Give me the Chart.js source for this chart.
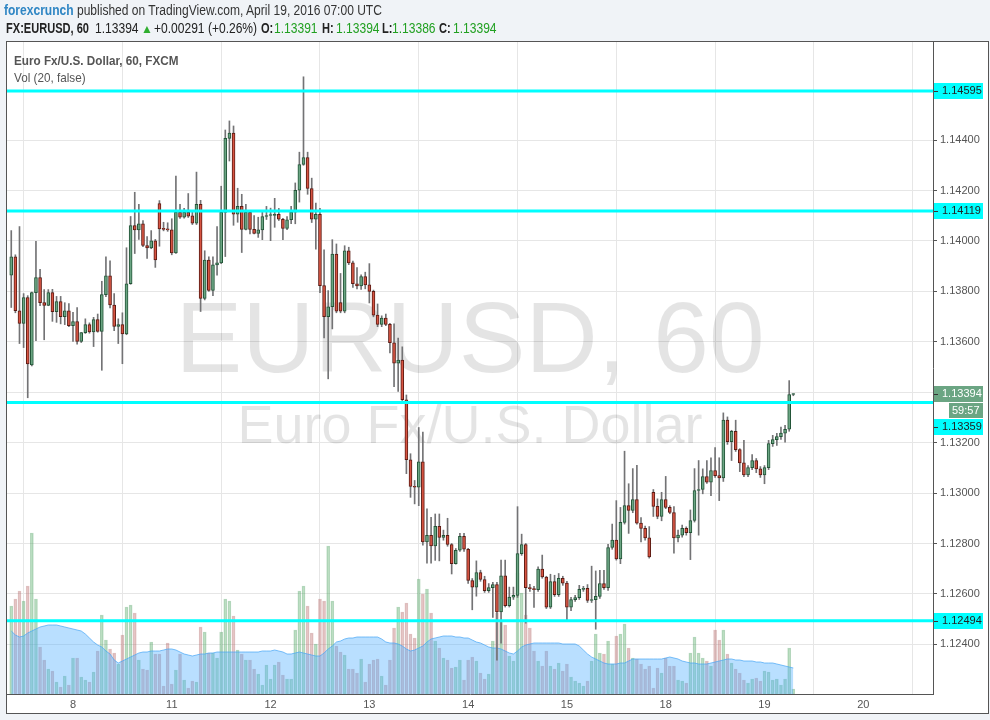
<!DOCTYPE html>
<html><head><meta charset="utf-8">
<script src="https://cdn.jsdelivr.net/npm/chart.js@4.4.1/dist/chart.umd.min.js"></script>
<style>
html,body{margin:0;padding:0;background:#f0f3f7;}
body{width:990px;height:720px;position:relative;overflow:hidden;font-family:"Liberation Sans",Arial,sans-serif;}
#frame{position:absolute;left:6px;top:41px;width:981px;height:671px;border:1px solid #555;background:#fff;}
#c{position:absolute;left:0;top:0;}
.t{position:absolute;white-space:nowrap;transform-origin:0 0;}
#h1{left:4px;top:2px;font-size:14px;color:#333;transform:scaleX(0.86);}
#h1 b{color:#2f86c4;font-weight:bold;}
.h2{top:20px;font-size:14px;color:#222;transform:scaleX(0.86);}
.h2.b{font-weight:bold;transform:scaleX(0.79);}
.h2.g{color:#21a021;}
.h2.tri{color:#2fae2f;font-size:12px;top:22px;transform:none;}
#t1{left:14px;top:53px;font-size:13px;color:#555;font-weight:bold;transform:scaleX(0.9);}
#t2{left:14px;top:70px;font-size:13px;color:#555;transform:scaleX(0.9);}
</style></head>
<body>
<div id="frame"></div>
<canvas id="c" width="990" height="720"></canvas>
<div class="t" id="h1"><b>forexcrunch</b> published on TradingView.com, April 19, 2016 07:00 UTC</div>
<div class="t h2 b" style="left:6px">FX:EURUSD, 60</div>
<div class="t h2" style="left:95px">1.13394</div>
<div class="t h2 tri" style="left:141px">&#9650;</div>
<div class="t h2" style="left:154px">+0.00291 (+0.26%)</div>
<div class="t h2 b" style="left:261px">O:</div>
<div class="t h2 g" style="left:274px">1.13391</div>
<div class="t h2 b" style="left:322px">H:</div>
<div class="t h2 g" style="left:336px">1.13394</div>
<div class="t h2 b" style="left:382px">L:</div>
<div class="t h2 g" style="left:392px">1.13386</div>
<div class="t h2 b" style="left:439px">C:</div>
<div class="t h2 g" style="left:453px">1.13394</div>
<div class="t" id="t1">Euro Fx/U.S. Dollar, 60, FXCM</div>
<div class="t" id="t2">Vol (20, false)</div>
<script>
// ---- data (hourly candles, first candle = Apr 7 09:00 UTC, hour index 9) ----
const startHour = 9;
const dayTicks = [24, 48, 72, 96, 120, 144, 168, 192, 216];
const dayLabels = ['8', '11', '12', '13', '14', '15', '18', '19', '20'];
const priceTicks = [1.124, 1.126, 1.128, 1.130, 1.132, 1.134, 1.136, 1.138, 1.140, 1.142, 1.144];
const levels = [1.14595, 1.14119, 1.13359, 1.12494];
const lastPrice = 1.13394;
const countdown = '59:57';

const open = [
1.13864,1.13937,1.13723,1.13673,1.13775,1.13508,1.13795,1.13855,1.13755,1.13744,
1.13795,1.13719,1.13759,1.13700,1.13723,1.13664,1.13680,1.13601,1.13636,1.13668,
1.13639,1.13688,1.13641,1.13787,1.13862,1.13746,1.13661,1.13668,1.13631,1.13830,
1.14061,1.14044,1.14068,1.13982,1.13972,1.14000,1.14148,1.14048,1.14046,1.14044,
1.13952,1.14113,1.14094,1.14113,1.14100,1.14070,1.14145,1.13772,1.13924,1.13804,
1.13905,1.13913,1.14113,1.14407,1.14428,1.14106,1.14137,1.14046,1.14113,1.14046,
1.14030,1.14044,1.14097,1.14101,1.14101,1.14105,1.14086,1.14050,1.14084,1.14114,
1.14201,1.14303,1.14331,1.14208,1.14086,1.14105,1.13823,1.13700,1.13739,1.13948,
1.13755,1.13721,1.13961,1.13913,1.13830,1.13822,1.13859,1.13826,1.13800,1.13706,
1.13669,1.13694,1.13669,1.13596,1.13515,1.13527,1.13370,1.13132,1.13026,1.13023,
1.13124,1.12806,1.12832,1.12790,1.12868,1.12824,1.12832,1.12796,1.12720,1.12773,
1.12828,1.12777,1.12653,1.12627,1.12685,1.12657,1.12613,1.12625,1.12637,1.12529,
1.12672,1.12553,1.12587,1.12594,1.12760,1.12796,1.12625,1.12621,1.12617,1.12698,
1.12667,1.12547,1.12649,1.12597,1.12662,1.12643,1.12547,1.12577,1.12585,1.12618,
1.12622,1.12574,1.12577,1.12590,1.12641,1.12625,1.12784,1.12813,1.12739,1.12884,
1.12950,1.12931,1.12974,1.12881,1.12860,1.12822,1.13003,1.12947,1.12907,1.12974,
1.12943,1.12923,1.12822,1.12833,1.12860,1.12843,1.12891,1.13010,1.13014,1.13065,
1.13043,1.13089,1.13069,1.13060,1.13289,1.13204,1.13245,1.13172,1.13120,1.13072,
1.13101,1.13129,1.13096,1.13072,1.13101,1.13196,1.13212,1.13224,1.13238,1.13253,
1.13391];
const high = [
1.14041,1.13945,1.14057,1.13791,1.13783,1.13797,1.13998,1.13887,1.13807,1.13807,
1.13808,1.13780,1.13780,1.13755,1.13752,1.13717,1.13736,1.13637,1.13691,1.13675,
1.13697,1.13710,1.13840,1.13937,1.13921,1.13791,1.13691,1.13715,1.13973,1.14097,
1.14193,1.14145,1.14081,1.14017,1.14041,1.14006,1.14160,1.14074,1.14072,1.14088,
1.14257,1.14145,1.14129,1.14188,1.14121,1.14273,1.14161,1.13961,1.13937,1.13937,
1.14057,1.14217,1.14440,1.14476,1.14456,1.14209,1.14185,1.14145,1.14121,1.14101,
1.14094,1.14114,1.14137,1.14130,1.14169,1.14129,1.14090,1.14097,1.14137,1.14230,
1.14352,1.14651,1.14352,1.14249,1.14150,1.14129,1.13965,1.13803,1.14005,1.13988,
1.13871,1.13981,1.13975,1.13920,1.13894,1.13866,1.13876,1.13910,1.13805,1.13750,
1.13703,1.13710,1.13673,1.13671,1.13615,1.13580,1.13389,1.13156,1.13050,1.13260,
1.13242,1.12937,1.12904,1.12917,1.12917,1.12853,1.12900,1.12800,1.12780,1.12840,
1.12840,1.12781,1.12661,1.12731,1.12694,1.12670,1.12641,1.12646,1.12646,1.12734,
1.12734,1.12627,1.12627,1.12946,1.12837,1.12800,1.12638,1.12630,1.12707,1.12754,
1.12670,1.12678,1.12674,1.12681,1.12670,1.12650,1.12586,1.12594,1.12634,1.12630,
1.12637,1.12710,1.12691,1.12694,1.12694,1.12797,1.12877,1.12970,1.12943,1.13166,
1.13037,1.13097,1.13110,1.12903,1.12869,1.12867,1.13014,1.12977,1.13003,1.13066,
1.12950,1.12946,1.12853,1.12873,1.12866,1.12933,1.13097,1.13129,1.13096,1.13129,
1.13140,1.13180,1.13140,1.13318,1.13302,1.13249,1.13289,1.13176,1.13209,1.13109,
1.13153,1.13137,1.13105,1.13109,1.13209,1.13229,1.13237,1.13262,1.13269,1.13446,
1.13394];
const low = [
1.13736,1.13715,1.13593,1.13577,1.13378,1.13504,1.13604,1.13743,1.13608,1.13743,
1.13681,1.13677,1.13671,1.13668,1.13660,1.13601,1.13591,1.13597,1.13633,1.13634,
1.13581,1.13638,1.13487,1.13779,1.13734,1.13644,1.13593,1.13513,1.13628,1.13828,
1.13950,1.14006,1.13977,1.13931,1.13969,1.13895,1.13979,1.14040,1.14038,1.13945,
1.13950,1.14089,1.14090,1.14093,1.14065,1.14065,1.13720,1.13766,1.13800,1.13783,
1.13864,1.13910,1.13938,1.14317,1.14062,1.14074,1.13954,1.14044,1.14028,1.14028,
1.14014,1.14005,1.14085,1.14001,1.14054,1.14081,1.14005,1.14045,1.14068,1.14068,
1.14154,1.14300,1.14185,1.14073,1.13967,1.13795,1.13615,1.13453,1.13651,1.13715,
1.13715,1.13715,1.13906,1.13816,1.13810,1.13808,1.13810,1.13754,1.13699,1.13660,
1.13660,1.13664,1.13556,1.13422,1.13403,1.13367,1.13077,1.12983,1.12957,1.12950,
1.12793,1.12722,1.12722,1.12733,1.12731,1.12813,1.12789,1.12679,1.12718,1.12769,
1.12769,1.12642,1.12537,1.12591,1.12650,1.12606,1.12606,1.12507,1.12337,1.12405,
1.12548,1.12548,1.12578,1.12586,1.12753,1.12484,1.12610,1.12546,1.12610,1.12662,
1.12542,1.12542,1.12590,1.12590,1.12634,1.12494,1.12534,1.12570,1.12578,1.12610,
1.12566,1.12566,1.12460,1.12582,1.12618,1.12614,1.12777,1.12734,1.12720,1.12877,
1.12840,1.12922,1.12877,1.12806,1.12813,1.12742,1.12907,1.12898,1.12890,1.12938,
1.12918,1.12762,1.12806,1.12825,1.12833,1.12736,1.12885,1.12833,1.12997,1.13038,
1.12990,1.13062,1.12970,1.13046,1.13193,1.13129,1.13165,1.13085,1.13065,1.13065,
1.13093,1.13081,1.13062,1.13037,1.13093,1.13185,1.13189,1.13213,1.13202,1.13245,
1.13386];
const close = [
1.13937,1.13723,1.13673,1.13775,1.13512,1.13795,1.13855,1.13755,1.13744,1.13795,
1.13719,1.13759,1.13700,1.13723,1.13664,1.13680,1.13601,1.13636,1.13668,1.13639,
1.13688,1.13641,1.13787,1.13862,1.13746,1.13661,1.13668,1.13631,1.13830,1.14061,
1.14044,1.14068,1.13982,1.13972,1.14000,1.13925,1.14048,1.14046,1.14044,1.13952,
1.14113,1.14094,1.14113,1.14098,1.14070,1.14145,1.13772,1.13924,1.13804,1.13905,
1.13913,1.14113,1.14407,1.14428,1.14106,1.14137,1.14046,1.14113,1.14046,1.14030,
1.14044,1.14097,1.14101,1.14101,1.14105,1.14086,1.14050,1.14084,1.14114,1.14201,
1.14303,1.14331,1.14208,1.14086,1.14105,1.13823,1.13700,1.13739,1.13948,1.13721,
1.13721,1.13961,1.13913,1.13830,1.13822,1.13859,1.13826,1.13800,1.13706,1.13669,
1.13694,1.13669,1.13596,1.13515,1.13527,1.13370,1.13132,1.13026,1.13023,1.13124,
1.12806,1.12832,1.12790,1.12868,1.12824,1.12832,1.12796,1.12720,1.12773,1.12828,
1.12777,1.12653,1.12627,1.12685,1.12657,1.12613,1.12625,1.12637,1.12529,1.12672,
1.12553,1.12587,1.12594,1.12760,1.12796,1.12625,1.12621,1.12617,1.12698,1.12667,
1.12547,1.12649,1.12597,1.12662,1.12643,1.12547,1.12577,1.12585,1.12618,1.12622,
1.12574,1.12577,1.12590,1.12641,1.12625,1.12784,1.12813,1.12739,1.12884,1.12950,
1.12931,1.12974,1.12881,1.12860,1.12822,1.12747,1.12947,1.12907,1.12974,1.12943,
1.12923,1.12822,1.12833,1.12860,1.12843,1.12891,1.13010,1.13014,1.13065,1.13043,
1.13089,1.13069,1.13060,1.13289,1.13204,1.13245,1.13172,1.13120,1.13072,1.13101,
1.13129,1.13096,1.13072,1.13101,1.13196,1.13212,1.13224,1.13238,1.13253,1.13391,
1.13394];
const volume = [
880,950,1030,930,1080,1610,950,470,340,250,
230,120,70,180,90,360,360,170,140,120,
220,430,790,540,450,410,300,590,870,890,
810,340,250,240,520,400,400,80,510,100,
240,400,140,60,130,120,670,620,410,410,
360,620,950,930,780,440,400,340,340,250,
200,90,290,150,290,320,190,150,150,640,
1030,1080,880,610,500,950,930,1480,930,480,
420,390,250,250,210,350,120,300,340,350,
180,90,340,660,870,820,910,600,560,1150,
1000,1050,810,530,460,360,340,260,270,340,
140,340,370,330,210,150,200,530,810,730,
690,380,330,1210,1010,790,660,430,330,280,
430,280,250,310,230,300,170,130,110,80,
130,330,600,410,400,530,300,580,600,700,
460,360,350,300,250,280,60,260,210,360,
280,280,140,130,110,410,570,410,360,330,
280,640,540,640,400,310,250,210,140,110,
150,160,130,230,220,140,150,90,150,460,
50];
const volumeMA = [
630,590,570,580,610,630,650,670,680,690,
690,690,680,670,660,650,640,630,600,560,
520,490,470,430,400,340,310,330,350,370,
390,410,420,420,430,430,430,440,450,450,
440,420,400,390,380,390,400,400,410,410,
420,420,420,420,420,420,420,420,420,420,
420,430,430,430,440,430,420,400,400,410,
420,410,400,390,380,380,410,450,480,520,
530,550,560,560,570,570,570,570,570,570,
550,520,510,510,500,480,450,430,440,460,
480,520,550,560,570,580,580,580,570,570,
560,560,540,520,510,490,470,460,460,450,
430,410,400,430,470,490,500,510,510,510,
510,510,510,510,500,500,500,500,480,440,
400,370,350,330,310,300,300,300,310,310,
330,350,350,350,350,350,350,350,350,360,
370,360,350,330,320,310,310,300,300,300,
310,320,330,340,350,350,340,340,330,330,
330,320,320,310,310,310,300,290,280,270,
260];

// ---- styling ----
const FONT = '"Liberation Sans", Arial, sans-serif';
const UP = '#6ba583', UP_B = '#225437', DN = '#d75442', DN_B = '#5b1a13', WICK = '#737375';
const X_MIN = 7.965, X_MAX = 232.94, Y_MIN = 1.12203, Y_MAX = 1.14789;

const isUp = close.map((c, i) => c >= open[i]);
const xs = open.map((_, i) => startHour + i);

const bodyData = xs.map((x, i) => ({x, y: [open[i], close[i]]}));
const wickData = xs.map((x, i) => ({x, y: [low[i], high[i]]}));
const volData = xs.map((x, i) => ({x, y: volume[i]}));
const maData = xs.map((x, i) => ({x, y: volumeMA[i]}));

const levelSets = levels.map(l => ({
  type: 'line', data: [{x: X_MIN, y: l}, {x: X_MAX, y: l}], yAxisID: 'y',
  borderColor: '#00ffff', borderWidth: 3, pointRadius: 0, order: 0
}));

const watermark = {
  id: 'watermark',
  beforeDatasetsDraw(chart) {
    const {ctx, chartArea: a} = chart;
    const cx = (a.left + a.right) / 2;
    ctx.save();
    ctx.fillStyle = 'rgba(0,0,0,0.105)';
    ctx.textAlign = 'center';
    ctx.textBaseline = 'alphabetic';
    ctx.font = '100px ' + FONT;
    ctx.fillText('EURUSD, 60', cx, a.top + 330);
    ctx.font = '54px ' + FONT;
    ctx.fillText('Euro Fx/U.S. Dollar', cx, a.top + 401);
    ctx.restore();
  }
};

function box(ctx, x1, x2, yc, h, bg, fg, text, tx) {
  ctx.fillStyle = bg;
  ctx.fillRect(x1, Math.round(yc - h / 2), x2 - x1, h);
  ctx.fillStyle = '#333';
  ctx.fillRect(x1, Math.round(yc), 4, 1);
  ctx.fillStyle = fg;
  ctx.textBaseline = 'middle';
  ctx.textAlign = 'left';
  ctx.fillText(text, tx, yc + 0.5);
}

const axisLabels = {
  id: 'axisLabels',
  afterDraw(chart) {
    const {ctx, chartArea: a} = chart;
    const ys = chart.scales.y;
    const x1 = a.right + 1, x2 = 983;
    ctx.save();
    ctx.font = '11px ' + FONT;
    const yLast = ys.getPixelForValue(lastPrice);
    levels.forEach(l => {
      let yc = ys.getPixelForValue(l);
      if (Math.abs(yc - yLast) < 30) yc = yLast + 33;
      box(ctx, x1, x2, yc, 16, '#00ffff', '#222', l.toFixed(5), x1 + 8);
    });
    box(ctx, x1, x2, yLast, 16, UP, '#fff', lastPrice.toFixed(5), x1 + 8);
    ctx.fillStyle = UP;
    ctx.fillRect(949, Math.round(yLast + 9.5), x2 - 949, 15);
    ctx.fillStyle = '#fff';
    ctx.textAlign = 'left';
    ctx.fillText(countdown, 952, yLast + 17.5);
    ctx.restore();
  }
};

Chart.defaults.font.family = FONT;
new Chart(document.getElementById('c'), {
  type: 'bar',
  data: {
    datasets: [
      ...levelSets,
      {label: 'body', data: bodyData, yAxisID: 'y', grouped: false, barThickness: 3, minBarLength: 1,
       backgroundColor: isUp.map(u => u ? UP : DN), borderColor: isUp.map(u => u ? UP_B : DN_B),
       borderWidth: 1, borderSkipped: false, order: 1},
      {label: 'wick', data: wickData, yAxisID: 'y', grouped: false, barThickness: 1,
       backgroundColor: WICK, order: 2},
      {type: 'line', label: 'volMA', data: maData, yAxisID: 'v', fill: 'origin',
       backgroundColor: 'rgba(80,176,255,0.40)', borderColor: 'rgba(70,165,245,0.7)', borderWidth: 1,
       pointRadius: 0, tension: 0, order: 3},
      {label: 'vol', data: volData, yAxisID: 'v', grouped: false, barThickness: 3,
       backgroundColor: isUp.map(u => u ? 'rgba(120,195,130,0.22)' : 'rgba(210,130,130,0.22)'),
       borderColor: isUp.map(u => u ? 'rgba(70,155,90,0.40)' : 'rgba(175,100,100,0.40)'),
       borderWidth: 1, borderSkipped: false, order: 4}
    ]
  },
  options: {
    responsive: false, animation: false, devicePixelRatio: 1,
    layout: {padding: {left: 7, top: 42, right: 2, bottom: 7}},
    plugins: {legend: {display: false}, tooltip: {enabled: false}},
    scales: {
      x: {
        type: 'linear', min: X_MIN, max: X_MAX, offset: false,
        afterBuildTicks: s => { s.ticks = dayTicks.map(v => ({value: v})); },
        ticks: {callback: v => dayLabels[dayTicks.indexOf(v)], color: '#555', font: {size: 11},
                maxRotation: 0, autoSkip: false, padding: 4},
        grid: {color: '#e6e6e6', drawTicks: false},
        border: {color: '#555'},
        afterFit: s => { s.height = 19; }
      },
      y: {
        position: 'right', min: Y_MIN, max: Y_MAX,
        afterBuildTicks: s => { s.ticks = priceTicks.map(v => ({value: v})); },
        ticks: {callback: v => v.toFixed(5), color: '#555', font: {size: 11}, padding: 3},
        grid: {color: '#e6e6e6', tickColor: '#555', tickLength: 4},
        border: {color: '#555'},
        afterFit: s => { s.width = 55; }
      },
      v: {display: false, min: 0, max: 6520}
    }
  },
  plugins: [watermark, axisLabels]
});
</script>
</body></html>
